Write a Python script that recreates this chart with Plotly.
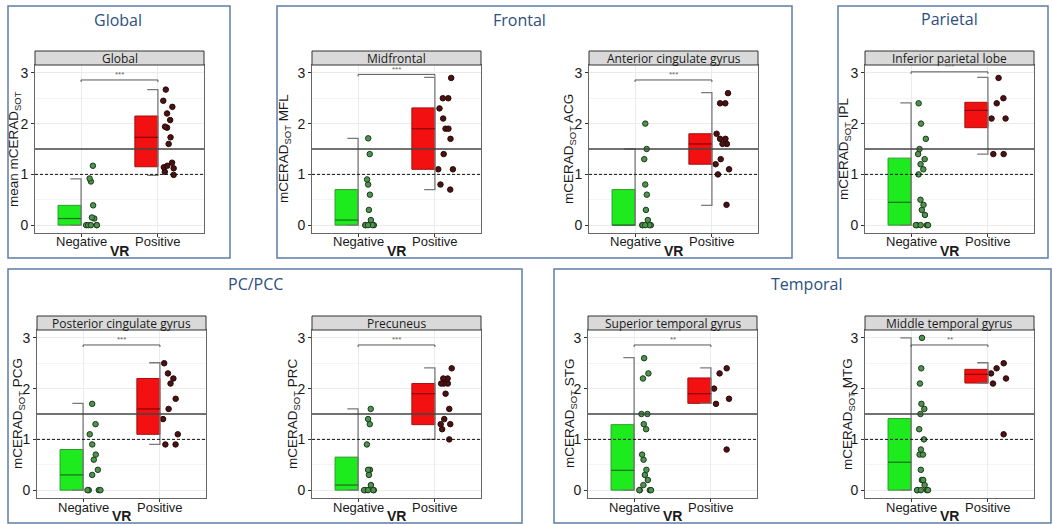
import plotly.graph_objects as go

W, H = 1053, 524

# ---------------- data ----------------
regions = ["Global", "Midfrontal", "Anterior cingulate gyrus", "Inferior parietal lobe",
           "Posterior cingulate gyrus", "Precuneus", "Superior temporal gyrus", "Middle temporal gyrus"]
ylabels = ["mean mCERAD<sub>SOT</sub>", "mCERAD<sub>SOT</sub> MFL", "mCERAD<sub>SOT</sub> ACG",
           "mCERAD<sub>SOT</sub> IPL", "mCERAD<sub>SOT</sub> PCG", "mCERAD<sub>SOT</sub> PRC",
           "mCERAD<sub>SOT</sub> STG", "mCERAD<sub>SOT</sub> MTG"]
categories = ["Negative", "Positive"]
xlabel = "VR"
y_ticks = [0, 1, 2, 3]

groups = ["Global", "Frontal", "Parietal", "PC/PCC", "Temporal"]

# box statistics (q1, median, q3, whisker low, whisker high)
neg_q1 = [0, 0, 0, 0, 0, 0, 0, 0]
neg_med = [0.13, 0.10, 0.0, 0.45, 0.30, 0.10, 0.39, 0.55]
neg_q3 = [0.39, 0.70, 0.70, 1.32, 0.80, 0.65, 1.29, 1.41]
neg_lo = [0, 0, 0, 0, 0, 0, 0, 0]
neg_hi = [0.91, 1.71, 1.50, 2.41, 1.71, 1.60, 2.61, 3.0]
pos_q1 = [1.15, 1.10, 1.20, 1.92, 1.10, 1.29, 1.71, 2.11]
pos_med = [1.73, 1.90, 1.60, 2.26, 1.60, 1.90, 1.90, 2.28]
pos_q3 = [2.15, 2.31, 1.80, 2.42, 2.20, 2.10, 2.21, 2.38]
pos_lo = [0.98, 0.70, 0.39, 1.40, 0.90, 1.00, 1.71, 2.11]
pos_hi = [2.67, 2.91, 2.61, 2.91, 2.51, 2.41, 2.41, 2.51]

bracket_y = [2.86, 2.97, 2.86, 3.02, 2.86, 2.86, 2.86, 2.86]
signif = ["***", "***", "***", "***", "***", "***", "**", "**"]

threshold_solid = 1.5
threshold_dotted = 1.0

neg_points = [
    [1.17, 0.92, 0.86, 0.39, 0.15, 0.13, 0, 0, 0, 0, 0],
    [1.71, 1.40, 0.90, 0.80, 0.60, 0.30, 0.10, 0, 0, 0, 0, 0],
    [2.0, 1.5, 1.3, 0.8, 0.6, 0.3, 0.1, 0, 0, 0, 0, 0],
    [2.4, 2.0, 1.7, 1.5, 1.4, 1.3, 1.2, 1.1, 1.0, 0.5, 0.4, 0.3, 0.2, 0, 0, 0, 0, 0],
    [1.7, 1.3, 1.1, 0.9, 0.7, 0.6, 0.4, 0.3, 0, 0, 0, 0],
    [1.6, 1.4, 1.3, 0.9, 0.4, 0.4, 0.3, 0.1, 0, 0, 0, 0, 0],
    [2.6, 2.3, 2.2, 1.5, 1.5, 1.3, 1.2, 0.7, 0.6, 0.4, 0.3, 0.2, 0.1, 0, 0, 0, 0],
    [3.0, 2.4, 2.1, 1.7, 1.6, 1.5, 1.2, 1.0, 0.8, 0.7, 0.7, 0.4, 0.2, 0.2, 0.1, 0, 0, 0, 0, 0],
]
pos_points = [
    [2.67, 2.45, 2.33, 2.20, 2.07, 1.94, 1.92, 1.73, 1.60, 1.23, 1.17, 1.14, 1.12, 1.05, 0.99],
    [2.9, 2.5, 2.5, 2.3, 2.1, 1.9, 1.9, 1.7, 1.4, 1.1, 1.1, 0.8, 0.7],
    [2.6, 2.4, 2.4, 1.8, 1.7, 1.7, 1.6, 1.6, 1.3, 1.2, 1.1, 1.0, 0.4],
    [2.9, 2.5, 2.4, 2.1, 2.1, 1.4, 1.4],
    [2.5, 2.3, 2.2, 2.1, 1.8, 1.6, 1.4, 1.1, 0.9, 0.9],
    [2.4, 2.2, 2.2, 2.1, 2.1, 2.1, 1.9, 1.6, 1.4, 1.3, 1.3, 1.2, 1.0],
    [2.4, 2.3, 2.0, 1.8, 1.7, 0.8],
    [2.5, 2.4, 2.3, 2.2, 2.1, 1.1],
]

# ---------------- layout geometry (pixels) ----------------
left_px = [35, 312, 589, 865, 37, 312, 588, 865]
top_px = [65, 65, 65, 65, 330, 330, 330, 330]
PW, PH = 169, 168
STRIP_H = 14
ylab_off = [-21, -28, -20, -21, -19, -19, -18, -17]

group_rects = [(8, 6, 230, 258), (277, 6, 792, 258), (838, 6, 1048, 258),
               (8, 269, 522, 523), (554, 269, 1051, 523)]
group_title_pos = [(118, 20), (519, 20), (949, 19), (255, 284), (807, 284)]

fill_cols = ["#1EEB1E", "#F21010"]
edge_cols = ["#2E9A2E", "#A01010"]
med_cols = ["#1F6A1F", "#8A0000"]
pt_fill = ["#4E944E", "#4A1212"]
pt_edge = ["#1C3A1C", "#2A0808"]

BOX_W = 0.3
CAP = 0.14


def px2x(p):
    return p / W


def px2y(p):
    return 1 - p / H


fig = go.Figure()
shapes = []
annotations = []
cat_pos = [1, 2]

for i in range(8):
    k = i + 1
    xa = "x" if k == 1 else f"x{k}"
    ya = "y" if k == 1 else f"y{k}"
    q1 = [neg_q1[i], pos_q1[i]]
    md = [neg_med[i], pos_med[i]]
    q3 = [neg_q3[i], pos_q3[i]]
    lo = [neg_lo[i], pos_lo[i]]
    hi = [neg_hi[i], pos_hi[i]]

    # whiskers (bracket style at category centre)
    for j, c in enumerate(cat_pos):
        fig.add_trace(go.Scatter(
            x=[c - CAP, c, c, c - CAP], y=[hi[j], hi[j], lo[j], lo[j]],
            mode="lines", line=dict(color="#7a7a7a", width=1.3),
            xaxis=xa, yaxis=ya, showlegend=False, hoverinfo="skip"))

    # half boxes
    fig.add_trace(go.Bar(
        x=[c - BOX_W / 2 for c in cat_pos], y=[q3[j] - q1[j] for j in range(2)],
        base=q1, width=[BOX_W, BOX_W],
        marker=dict(color=fill_cols, line=dict(color=edge_cols, width=1)),
        xaxis=xa, yaxis=ya, showlegend=False, hoverinfo="skip"))

    # medians
    for j, c in enumerate(cat_pos):
        fig.add_trace(go.Scatter(
            x=[c - BOX_W, c], y=[md[j], md[j]], mode="lines",
            line=dict(color=med_cols[j], width=1.2),
            xaxis=xa, yaxis=ya, showlegend=False, hoverinfo="skip"))

    # jittered points (box trace used only for its points)
    for j, (c, pts) in enumerate(zip(cat_pos, [neg_points[i], pos_points[i]])):
        fig.add_trace(go.Box(
            x=[c] * len(pts), y=pts, width=0.3, boxpoints="all",
            jitter=0.8, pointpos=0.95,
            fillcolor="rgba(0,0,0,0)", line=dict(color="rgba(0,0,0,0)", width=0),
            marker=dict(color=pt_fill[j], size=5.5, line=dict(color=pt_edge[j], width=1)),
            xaxis=xa, yaxis=ya, showlegend=False, hoveron="points"))

    # significance bracket
    b = bracket_y[i]
    fig.add_trace(go.Scatter(
        x=[cat_pos[0], cat_pos[0], cat_pos[1], cat_pos[1]], y=[b - 0.04, b, b, b - 0.04],
        mode="lines", line=dict(color="#555555", width=1),
        xaxis=xa, yaxis=ya, showlegend=False, hoverinfo="skip"))
    annotations.append(dict(x=sum(cat_pos) / 2, y=b, xref=xa, yref=ya, text=signif[i],
                            showarrow=False, yanchor="middle", yshift=5,
                            font=dict(size=8, color="#666666", family="Liberation Sans")))

    # reference lines
    shapes.append(dict(type="line", xref=f"{xa} domain", yref=ya, x0=0, x1=1,
                       y0=threshold_solid, y1=threshold_solid,
                       line=dict(color="#444444", width=1.3), layer="above"))
    shapes.append(dict(type="line", xref=f"{xa} domain", yref=ya, x0=0, x1=1,
                       y0=threshold_dotted, y1=threshold_dotted,
                       line=dict(color="#111111", width=1, dash="3px,2px"), layer="above"))

    # axes
    L, T = left_px[i], top_px[i]
    xkey = "xaxis" if k == 1 else f"xaxis{k}"
    ykey = "yaxis" if k == 1 else f"yaxis{k}"
    fig.update_layout(**{
        xkey: dict(domain=[px2x(L), px2x(L + PW)], anchor=ya, range=[0.4, 2.6],
                   tickvals=cat_pos, ticktext=categories, showticklabels=False,
                   showgrid=True, gridcolor="#ebebeb",
                   gridwidth=1, zeroline=False, showline=True, mirror=True, linecolor="#666666",
                   linewidth=1, ticks="outside", ticklen=3, tickcolor="#333333", fixedrange=True),
        ykey: dict(domain=[px2y(T + PH), px2y(T)], anchor=xa, range=[-0.155, 3.155],
                   tickvals=y_ticks, showgrid=True, gridcolor="#ebebeb", gridwidth=1,
                   minor=dict(tickvals=[0.5, 1.5, 2.5], showgrid=True, gridcolor="#f4f4f4", ticks=""),
                   zeroline=False, showline=True, mirror=True, linecolor="#666666", linewidth=1,
                   ticks="outside", ticklen=3, tickcolor="#333333",
                   tickfont=dict(size=14, color="#1a1a1a", family="Liberation Sans"), fixedrange=True),
    })

    # category labels just under the axis
    for c, lab in zip(cat_pos, categories):
        annotations.append(dict(x=c, y=0, xref=xa, yref=f"{ya} domain", text=lab,
                                showarrow=False, xanchor="center", yanchor="middle", yshift=-9,
                                font=dict(size=13, color="#1a1a1a", family="Liberation Sans")))

    # strip header
    shapes.append(dict(type="rect", xref="paper", yref="paper",
                       x0=px2x(L), x1=px2x(L + PW), y0=px2y(T), y1=px2y(T - STRIP_H),
                       fillcolor="#d9d9d9", line=dict(color="#333333", width=1), layer="above"))
    annotations.append(dict(x=px2x(L + PW / 2), y=px2y(T - STRIP_H / 2), xref="paper", yref="paper",
                            text=regions[i], showarrow=False, xanchor="center", yanchor="middle",
                            font=dict(size=12, color="#1a1a1a", family="Open Sans")))

    # y axis title
    annotations.append(dict(x=px2x(L + ylab_off[i]), y=px2y(T + PH / 2), xref="paper", yref="paper",
                            text=ylabels[i], textangle=-90, showarrow=False,
                            xanchor="center", yanchor="middle",
                            font=dict(size=13.5, color="#1a1a1a", family="Liberation Sans")))
    # x axis title
    annotations.append(dict(x=px2x(L + PW / 2), y=px2y(T + PH + 18), xref="paper", yref="paper",
                            text=f"<b>{xlabel}</b>", showarrow=False, xanchor="center", yanchor="middle",
                            font=dict(size=14, color="#1a1a1a", family="Liberation Sans")))

# group frames and titles
for (x0, y0, x1, y1), name, (tx, ty) in zip(group_rects, groups, group_title_pos):
    shapes.append(dict(type="rect", xref="paper", yref="paper",
                       x0=px2x(x0), x1=px2x(x1), y0=px2y(y1), y1=px2y(y0),
                       line=dict(color="#5E7EA8", width=1.5), fillcolor="rgba(0,0,0,0)"))
    annotations.append(dict(x=px2x(tx), y=px2y(ty), xref="paper", yref="paper", text=name,
                            showarrow=False, xanchor="center", yanchor="middle",
                            font=dict(size=16, color="#2D4F7F", family="Open Sans")))

fig.update_layout(width=W, height=H, margin=dict(l=0, r=0, t=0, b=0),
                  paper_bgcolor="white", plot_bgcolor="white",
                  barmode="overlay", boxmode="overlay", showlegend=False,
                  shapes=shapes, annotations=annotations)

fig.write_html("out.html", config={"displayModeBar": False},
               post_script="document.body.style.margin='0';document.body.style.overflow='hidden';")
